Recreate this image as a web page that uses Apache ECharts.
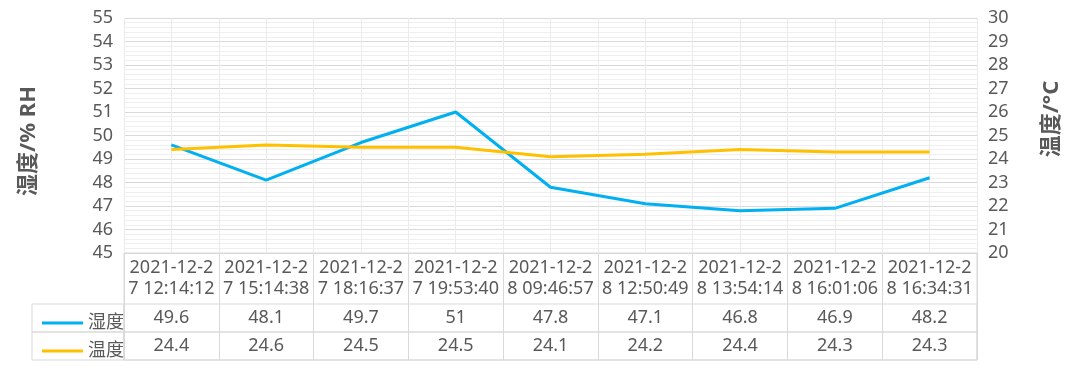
<!DOCTYPE html>
<html>
<head>
<meta charset="utf-8">
<script src="https://cdn.jsdelivr.net/npm/echarts@6/dist/echarts.min.js"></script>
<style>
html,body{margin:0;padding:0;background:#fff;}
#c{width:1075px;height:374px;}
</style>
</head>
<body>
<div id="c"></div>
<script>
var categories = ['2021-12-27 12:14:12','2021-12-27 15:14:38','2021-12-27 18:16:37','2021-12-27 19:53:40','2021-12-28 09:46:57','2021-12-28 12:50:49','2021-12-28 13:54:14','2021-12-28 16:01:06','2021-12-28 16:34:31'];
var humidity = [49.6, 48.1, 49.7, 51, 47.8, 47.1, 46.8, 46.9, 48.2];
var temperature = [24.4, 24.6, 24.5, 24.5, 24.1, 24.2, 24.4, 24.3, 24.3];
var seriesNames = ['湿度', '温度'];
var leftAxis = {min: 45, max: 55, interval: 1, name: '湿度/% RH'};
var rightAxis = {min: 20, max: 30, interval: 1, name: '温度/°C'};

var FONT = "'Noto Sans', 'Noto Sans CJK SC', sans-serif";
var TXT = '#595959';
var BORDER = '#d9d9d9';
var L = 124, W = 853;
var FS = 18;

var chart = echarts.init(document.getElementById('c'), null, {renderer: 'canvas'});
function hiddenY(g){ return {type: 'value', gridIndex: g, show: false, min: 0, max: 1}; }
function hiddenX(g){ return {type: 'category', gridIndex: g, show: false, data: categories}; }

var option = {
  animation: false,
  backgroundColor: '#fff',
  textStyle: {fontFamily: FONT},
  legend: {
    orient: 'vertical', left: 37, top: 309,
    itemWidth: 41, itemHeight: 3, itemGap: 10,
    icon: 'rect',
    data: seriesNames,
    textStyle: {fontSize: FS, color: TXT, fontFamily: FONT},
    selectedMode: false
  },
  grid: [
    {left: L, top: 18, width: W, height: 235},
    {left: L, top: 253, width: W, height: 107, show: true, borderColor: BORDER, borderWidth: 1, backgroundColor: 'transparent'},
    {left: L, top: 304, width: W, height: 28, show: true, borderColor: BORDER, borderWidth: 1, backgroundColor: 'transparent'},
    {left: L, top: 332, width: W, height: 28, show: true, borderColor: BORDER, borderWidth: 1, backgroundColor: 'transparent'},
    {left: 32, top: 304, width: 92, height: 28, show: true, borderColor: BORDER, borderWidth: 1, backgroundColor: 'transparent'},
    {left: 32, top: 332, width: 92, height: 28, show: true, borderColor: BORDER, borderWidth: 1, backgroundColor: 'transparent'}
  ],
  xAxis: [
    {type: 'category', gridIndex: 0, data: categories, boundaryGap: true,
     axisLine: {show: false}, axisTick: {show: false}, splitLine: {show: false},
     axisLabel: {interval: 0, fontSize: FS, color: TXT, lineHeight: 21, margin: 25.5, verticalAlign: 'middle',
       formatter: function(s){ return s.slice(0, 9) + '\n' + s.slice(9); }}},
    {type: 'value', gridIndex: 0, min: 0, max: categories.length * 2, interval: 1,
     axisLine: {show: false}, axisTick: {show: false}, axisLabel: {show: false},
     splitLine: {show: true, lineStyle: {color: '#ebebeb', width: 1}}},
    {type: 'category', gridIndex: 1, data: categories,
     axisLine: {show: false}, axisTick: {show: false}, axisLabel: {show: false},
     splitLine: {show: true, interval: 0, lineStyle: {color: BORDER, width: 1}}},
    {type: 'category', gridIndex: 2, position: 'bottom', data: humidity.map(String),
     axisLine: {show: false}, axisTick: {show: false}, splitLine: {show: false},
     axisLabel: {inside: true, interval: 0, margin: 14, verticalAlign: 'middle', fontSize: FS, color: TXT}},
    {type: 'category', gridIndex: 3, position: 'bottom', data: temperature.map(String),
     axisLine: {show: false}, axisTick: {show: false}, splitLine: {show: false},
     axisLabel: {inside: true, interval: 0, margin: 14, verticalAlign: 'middle', fontSize: FS, color: TXT}},
    hiddenX(4), hiddenX(5)
  ],
  yAxis: [
    {type: 'value', gridIndex: 0, position: 'left', min: leftAxis.min, max: leftAxis.max, interval: leftAxis.interval,
     name: leftAxis.name, nameLocation: 'middle', nameGap: 84, nameMoveOverlap: false,
     nameTextStyle: {fontSize: 22, fontWeight: 'bold', color: TXT, padding: [0, 11, 0, 0]},
     axisLine: {show: false}, axisTick: {show: false},
     axisLabel: {fontSize: FS, color: TXT, margin: 11},
     splitLine: {show: true, lineStyle: {color: BORDER, width: 1}},
     minorTick: {show: false, splitNumber: 5},
     minorSplitLine: {show: true, lineStyle: {color: '#efefef', width: 1}}},
    {type: 'value', gridIndex: 0, position: 'right', min: rightAxis.min, max: rightAxis.max, interval: rightAxis.interval,
     name: rightAxis.name, nameLocation: 'middle', nameGap: 64, nameMoveOverlap: false,
     nameTextStyle: {fontSize: 22, fontWeight: 'bold', color: TXT, padding: [0, 0, 0, 33]},
     axisLine: {show: false}, axisTick: {show: false},
     axisLabel: {fontSize: FS, color: TXT, margin: 11},
     splitLine: {show: false}},
    hiddenY(1), hiddenY(2), hiddenY(3), hiddenY(4), hiddenY(5)
  ],
  series: [
    {name: seriesNames[0], type: 'line', xAxisIndex: 0, yAxisIndex: 0, data: humidity,
     symbol: 'none', color: '#00B0F0', lineStyle: {color: '#00B0F0', width: 3}},
    {name: seriesNames[1], type: 'line', xAxisIndex: 0, yAxisIndex: 1, data: temperature,
     symbol: 'none', color: '#FFC000', lineStyle: {color: '#FFC000', width: 3}}
  ]
};
chart.setOption(option);
</script>
</body>
</html>
